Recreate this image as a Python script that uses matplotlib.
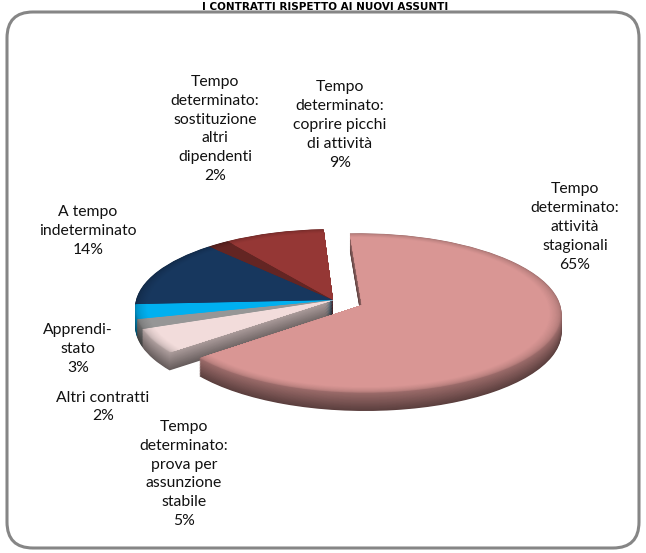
import matplotlib
matplotlib.use('Agg')
import matplotlib.pyplot as plt
from matplotlib.patches import FancyBboxPatch
from matplotlib.colors import to_rgb
from matplotlib.transforms import Transform, Affine2D
import numpy as np

# ---- data ----
categories = ["Tempo determinato: attività stagionali",
              "Tempo determinato: prova per assunzione stabile",
              "Altri contratti",
              "Apprendistato",
              "A tempo indeterminato",
              "Tempo determinato: sostituzione altri dipendenti",
              "Tempo determinato: coprire picchi di attività"]
values = [65, 5, 2, 3, 14, 2, 9]
label_texts = ["Tempo\ndeterminato:\nattività\nstagionali",
               "Tempo\ndeterminato:\nprova per\nassunzione\nstabile",
               "Altri contratti",
               "Apprendi-\nstato",
               "A tempo\nindeterminato",
               "Tempo\ndeterminato:\nsostituzione\naltri\ndipendenti",
               "Tempo\ndeterminato:\ncoprire picchi\ndi attività"]
colors = ['#D99694', '#F2DCDB', '#969696', '#00B0F0', '#17375E', '#632523', '#953735']
title = "I CONTRATTI RISPETTO AI NUOVI ASSUNTI"

# ---- layout (pixels) ----
W, H = 646, 553
label_pos = [(575, 227), (184, 474), (103, 407), (78, 349), (88, 231), (215, 129), (340, 125)]
explode = [0.16, 0, 0, 0, 0, 0, 0]
startangle = 93
cx, cy = 333, 300          # pie apex in pixels
rx, ry = 197, 78           # radii in pixels
persp_k = 0.1
depth_px = 18

plt.rcParams['font.family'] = ['Lato', 'DejaVu Sans']
fig = plt.figure(figsize=(W / 100, H / 100), dpi=100)

bg = fig.add_axes([0, 0, 1, 1])
bg.set_xlim(0, W)
bg.set_ylim(H, 0)
bg.axis('off')
bg.add_patch(FancyBboxPatch((7, 12), 632, 536,
                            boxstyle="round,pad=0,rounding_size=26",
                            facecolor='white', edgecolor='#868686', lw=2.2))
bg.text(325, 10, title, ha='center', va='baseline', fontsize=7.5,
        fontweight='bold', color='black', family='DejaVu Sans')

for txt, v, (px, py) in zip(label_texts, values, label_pos):
    bg.text(px, py, f"{txt}\n{v}%", ha='center', va='center', fontsize=11.3,
            linespacing=1.45, color='#111111')

ax = fig.add_axes([0, 0, 1, 1])
ax.patch.set_alpha(0)


class Persp(Transform):
    input_dims = output_dims = 2

    def __init__(self, k):
        super().__init__()
        self.k = k

    def transform_non_affine(self, v):
        v = np.asarray(v, float)
        w = 1 + self.k * v[:, 1]
        return np.column_stack([v[:, 0] / w, v[:, 1] / w])


persp = Persp(persp_k)


def darker(c, f):
    r, g, b = to_rgb(c)
    return (min(r * f, 1), min(g * f, 1), min(b * f, 1))


def draw_layer(cols, off, radius=1.0, lw=0, ec='none'):
    wedges, _ = ax.pie(values, explode=explode, startangle=startangle,
                       counterclock=False, colors=cols, radius=radius,
                       wedgeprops=dict(linewidth=lw, edgecolor=ec))
    tr = persp + Affine2D().translate(0, -off) + ax.transData
    for w in wedges:
        w.set_transform(tr)


# side walls
n_layers = 24
dy = depth_px / ry / n_layers
for k in range(n_layers, 0, -1):
    f = 0.42 + 0.3 * (1 - k / n_layers)
    draw_layer([darker(c, f) for c in colors], k * dy)

# top face with a soft darker rim (bevel-like)
n_rim = 16
for i in range(n_rim + 1):
    t = i / n_rim
    r = 1.0 - 0.06 * t
    f = 0.74 + 0.26 * np.sqrt(t)
    draw_layer([darker(c, f) for c in colors], 0, radius=r)

ax.set_aspect('auto')
ax.set_xlim(-cx / rx, (W - cx) / rx)
ax.set_ylim(-(H - cy) / ry, cy / ry)
ax.axis('off')

fig.savefig('out.png', dpi=100)
